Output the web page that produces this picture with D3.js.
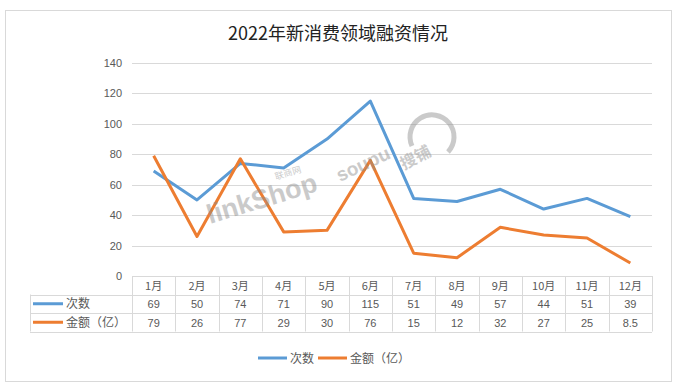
<!DOCTYPE html>
<html>
<head>
<meta charset="utf-8">
<script src="https://cdn.jsdelivr.net/npm/d3@7"></script>
<style>
  body { margin: 0; background: #fff; }
  svg { display: block; font-family: "Noto Sans CJK SC", "Noto Sans", sans-serif; }
</style>
</head>
<body>
<svg id="main" width="677" height="386"></svg>
<script>
const months = ["1月", "2月", "3月", "4月", "5月", "6月", "7月", "8月", "9月", "10月", "11月", "12月"];
const counts = [69, 50, 74, 71, 90, 115, 51, 49, 57, 44, 51, 39];
const amounts = [79, 26, 77, 29, 30, 76, 15, 12, 32, 27, 25, 8.5];
const yTicks = [0, 20, 40, 60, 80, 100, 120, 140];
const seriesNames = ["次数", "金额（亿）"];
const colors = ["#5b9bd5", "#ed7d31"];

const size = {
    width: 677, height: 386,
    plot: {left: 132, right: 652, top: 63, bottom: 276},
    rowH: 18.5
};

const svg = d3.select("#main");

// outer frame
svg.append("rect")
    .attr("x", 5.5).attr("y", 10.5)
    .attr("width", 666).attr("height", 371)
    .attr("fill", "#fff")
    .attr("stroke", "#d9d9d9");

svg.append("text")
    .attr("x", 338).attr("y", 40)
    .attr("text-anchor", "middle")
    .attr("font-size", 18)
    .attr("fill", "#222")
    .text("2022年新消费领域融资情况");

const xScale = d3.scaleBand(months, [size.plot.left, size.plot.right]);
const yScale = d3.scaleLinear([0, 140], [size.plot.bottom, size.plot.top]);

// gridlines
svg.append("g")
    .selectAll("line")
    .data(yTicks)
    .join("line")
    .attr("x1", size.plot.left).attr("x2", size.plot.right)
    .attr("y1", d => Math.round(yScale(d)) + 0.5)
    .attr("y2", d => Math.round(yScale(d)) + 0.5)
    .attr("stroke", "#d9d9d9");

svg.append("g")
    .selectAll("text")
    .data(yTicks)
    .join("text")
    .attr("x", 122)
    .attr("y", d => yScale(d) + 4)
    .attr("text-anchor", "end")
    .attr("font-size", 11)
    .attr("fill", "#595959")
    .attr("font-family", "Liberation Sans, Arial, sans-serif")
    .text(d => d);

// lines
const line = d3.line()
    .x((d, i) => xScale(months[i]) + xScale.bandwidth() / 2)
    .y(d => yScale(d));

svg.append("g")
    .selectAll("path")
    .data([counts, amounts])
    .join("path")
    .attr("d", d => line(d))
    .attr("fill", "none")
    .attr("stroke", (d, i) => colors[i])
    .attr("stroke-width", 3)
    .attr("stroke-linejoin", "round");

// watermarks
const wm = svg.append("g").attr("fill", "#8c8c8c").attr("opacity", 0.45);
wm.append("text")
    .attr("transform", "translate(210,224) rotate(-17)")
    .attr("font-size", 27).attr("font-weight", "bold")
    .attr("font-family", "Liberation Sans, Arial, sans-serif")
    .text("linkShop");
wm.append("text")
    .attr("transform", "translate(276,180) rotate(-17)")
    .attr("font-size", 9)
    .text("联商网");
wm.append("text")
    .attr("transform", "translate(340,182) rotate(-25)")
    .attr("font-size", 19).attr("font-weight", "bold")
    .attr("font-family", "Liberation Sans, Arial, sans-serif")
    .text("soupu");
wm.append("text")
    .attr("transform", "translate(404,170) rotate(-28)")
    .attr("font-size", 16).attr("font-weight", "bold")
    .text("搜铺");
wm.append("path")
    .attr("d", "M412,146 A22,22 0 1 1 448,152")
    .attr("fill", "none").attr("stroke", "#8c8c8c").attr("stroke-width", 5);

// data table
const table = svg.append("g").attr("stroke", "#d9d9d9").attr("fill", "none");
const t0 = size.plot.bottom;
const rowY = [t0, t0 + size.rowH, t0 + size.rowH * 2, t0 + size.rowH * 3];
const labelLeft = 30;

table.append("line").attr("x1", size.plot.left).attr("x2", size.plot.right)
    .attr("y1", Math.round(rowY[0]) + 0.5).attr("y2", Math.round(rowY[0]) + 0.5);
rowY.slice(1).forEach(y => {
    table.append("line").attr("x1", labelLeft).attr("x2", size.plot.right)
        .attr("y1", Math.round(y) + 0.5).attr("y2", Math.round(y) + 0.5);
});
months.forEach(m => {
    const x = Math.round(xScale(m)) + 0.5;
    table.append("line").attr("x1", x).attr("x2", x)
        .attr("y1", rowY[0]).attr("y2", rowY[3]);
});
table.append("line")
    .attr("x1", size.plot.right + 0.5).attr("x2", size.plot.right + 0.5)
    .attr("y1", rowY[0]).attr("y2", rowY[3]);
table.append("line")
    .attr("x1", labelLeft + 0.5).attr("x2", labelLeft + 0.5)
    .attr("y1", rowY[1]).attr("y2", rowY[3]);

const cellText = svg.append("g")
    .attr("font-size", 11)
    .attr("fill", "#595959")
    .attr("text-anchor", "middle");

cellText.selectAll("text.m")
    .data(months)
    .join("text")
    .attr("class", "m")
    .attr("x", d => xScale(d) + xScale.bandwidth() / 2)
    .attr("y", rowY[0] + 13.5)
    .text(d => d);

[counts, amounts].forEach((vals, r) => {
    cellText.append("g")
        .selectAll("text")
        .data(vals)
        .join("text")
        .attr("x", (d, i) => xScale(months[i]) + xScale.bandwidth() / 2)
        .attr("y", rowY[r + 1] + 13.5)
        .attr("font-family", "Liberation Sans, Arial, sans-serif")
        .text(d => d);

    svg.append("line")
        .attr("x1", 33).attr("x2", 63)
        .attr("y1", rowY[r + 1] + size.rowH / 2)
        .attr("y2", rowY[r + 1] + size.rowH / 2)
        .attr("stroke", colors[r]).attr("stroke-width", 3);
    svg.append("text")
        .attr("x", 66).attr("y", rowY[r + 1] + 13.5)
        .attr("font-size", 12).attr("fill", "#595959")
        .text(seriesNames[r]);
});

// legend
const legend = svg.append("g").attr("transform", "translate(258,358)");
const legendX = [0, 60];
seriesNames.forEach((name, i) => {
    legend.append("line")
        .attr("x1", legendX[i]).attr("x2", legendX[i] + 29)
        .attr("y1", 0).attr("y2", 0)
        .attr("stroke", colors[i]).attr("stroke-width", 3);
    legend.append("text")
        .attr("x", legendX[i] + 32).attr("y", 4.5)
        .attr("font-size", 12).attr("fill", "#595959")
        .text(name);
});
</script>
</body>
</html>
